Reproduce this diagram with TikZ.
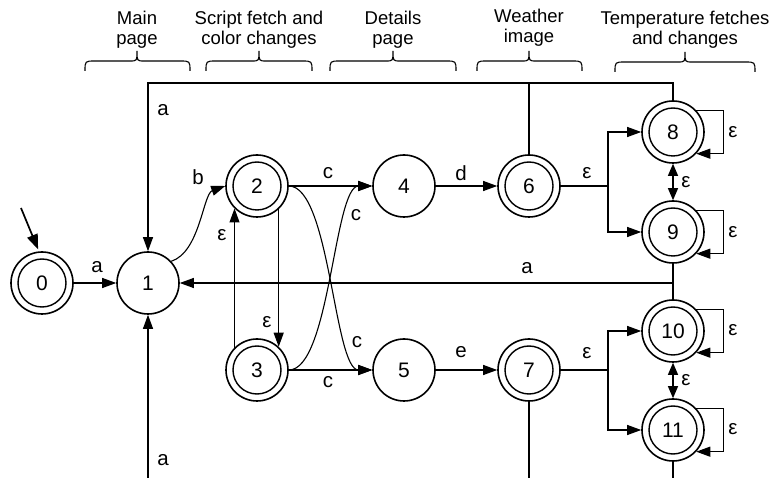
\documentclass[tikz,border=0pt]{standalone}
\usepackage{fontspec}
\setmainfont{Liberation Sans}
\usetikzlibrary{arrows.meta,calc}
\begin{document}
\begin{tikzpicture}[x=1pt,y=-1pt,
  state/.style={circle,draw,line width=1.6pt,minimum size=62pt,inner sep=0pt,font=\fontsize{21}{24}\selectfont},
  accept/.style={state,path picture={\draw[line width=1.4pt] (path picture bounding box.center) circle (24pt);}},
  conn/.style={line width=1.1pt},
  edge/.style={conn,-{Triangle[length=14pt,width=10pt]}},
  bidir/.style={conn,{Triangle[length=12pt,width=10pt]}-{Triangle[length=12pt,width=10pt]}},
  lab/.style={font=\fontsize{20.5}{24}\selectfont,inner sep=0pt},
  head/.style={font=\fontsize{18.5}{20}\selectfont,align=center,anchor=north,inner sep=0pt},
  bracepath/.style={line width=1.1pt}
]
\useasboundingbox (0,0) rectangle (772,478);

% headers
\node[head] (h1) at (137,11) {Main\\page};
\node[head] (h2) at (259,11) {Script fetch and\\color changes};
\node[head] (h3) at (393,11) {Details\\page};
\node[head] (h4) at (529,9) {Weather\\image};
\node[head] (h5) at (685,11) {Temperature fetches\\and changes};

% braces
\draw[bracepath] (85,71) .. controls (85,61) .. (95,61) -- (130,61) .. controls (137,61) .. (137,51) .. controls (137,61) .. (144,61) -- (180,61) .. controls (190,61) .. (190,71);
\draw[bracepath] (206,71) .. controls (206,61) .. (216,61) -- (252,61) .. controls (259,61) .. (259,51) .. controls (259,61) .. (266,61) -- (302,61) .. controls (312,61) .. (312,71);
\draw[bracepath] (330,71) .. controls (330,61) .. (340,61) -- (386,61) .. controls (393,61) .. (393,51) .. controls (393,61) .. (400,61) -- (446,61) .. controls (456,61) .. (456,71);
\draw[bracepath] (477,71) .. controls (477,61) .. (487,61) -- (522,61) .. controls (529,61) .. (529,51) .. controls (529,61) .. (536,61) -- (572,61) .. controls (582,61) .. (582,71);
\draw[bracepath] (615,72) .. controls (615,62) .. (625,62) -- (678,62) .. controls (685,62) .. (685,52) .. controls (685,62) .. (692,62) -- (745,62) .. controls (755,62) .. (755,72);

% states
\node[accept] (n0) at (42,283) {0};
\node[state]  (n1) at (148,283) {1};
\node[accept] (n2) at (257,186) {2};
\node[accept] (n3) at (257,370) {3};
\node[state]  (n4) at (404,186) {4};
\node[state]  (n5) at (404,370) {5};
\node[accept] (n6) at (529,186) {6};
\node[accept] (n7) at (529,370) {7};
\node[accept] (n8) at (673,132) {8};
\node[accept] (n9) at (673,232) {9};
\node[accept] (n10) at (673,331) {10};
\node[accept] (n11) at (673,430) {11};

% helper coordinates
\coordinate (init) at (21,208);
\coordinate (tl) at (148,83);
\coordinate (t6) at (529,83);
\coordinate (t8) at (673,83);
\coordinate (m) at (673,283);
\coordinate (mt) at (411,283);
\coordinate (b1) at (148,478);
\coordinate (b7) at (529,478);
\coordinate (b11) at (673,478);
\coordinate (s1) at (608,186);
\coordinate (s2) at (608,370);

% connectors
\draw[line width=1.7pt,-{Triangle[length=15pt,width=11pt]}] (init) -- ($(n0.97)+(0,-2)$);
\draw[edge] (n0) -- (n1);
\draw[edge] (n1.43) .. controls (200,252) and (203,194) .. (n2.west);
\draw[edge] (n3.135) -- (n2.225);
\draw[edge] (n2.-47) -- (n3.47);
\draw[edge] (n2) -- (n4);
\draw[edge] (n3) -- (n5);
\draw[edge] (n2.east) .. controls (330,186) and (334,370) .. (n5.west);
\draw[edge] (n3.east) .. controls (330,370) and (334,186) .. (n4.west);
\draw[edge] (n4) -- (n6);
\draw[edge] (n5) -- (n7);
\draw[conn] (n6) -- (s1);
\draw[edge] (s1) |- (n8);
\draw[edge] (s1) |- (n9);
\draw[conn] (n7) -- (s2);
\draw[edge] (s2) |- (n10);
\draw[edge] (s2) |- (n11);
\draw[edge] (n8.43) -- ++(27,0) |- (n8.-43);
\draw[edge] (n9.43) -- ++(27,0) |- (n9.-43);
\draw[edge] (n10.43) -- ++(27,0) |- (n10.-43);
\draw[edge] (n11.43) -- ++(27,0) |- (n11.-43);
\draw[bidir] (n8) -- (n9);
\draw[bidir] (n10) -- (n11);
\draw[edge] (n8.north) -- (t8) -- (tl) -- (n1.north);
\draw[conn] (n6.north) -- (t6);
\draw[conn] (n9.south) -- (n10.north);
\draw[edge] (m) -- (n1.east);
\draw[line width=2pt] (mt) -- (m);
\draw[edge] (b1) -- (n1.south);
\draw[conn] (n7.south) -- (b7);
\draw[conn] (n11.south) -- (b11);

% labels
\node[lab] (l1) at (163,110) {a};
\node[lab] (l2) at (97,267) {a};
\node[lab] (l3) at (198,177) {b};
\node[lab] (l4) at (328,173) {c};
\node[lab] (l5) at (356,215) {c};
\node[lab] (l6) at (222,235) {ε};
\node[lab] (l7) at (267,322) {ε};
\node[lab] (l8) at (357,342) {c};
\node[lab] (l9) at (328,382) {c};
\node[lab] (l10) at (163,460) {a};
\node[lab] (l11) at (461,173) {d};
\node[lab] (l12) at (461,352) {e};
\node[lab] (l13) at (587,173) {ε};
\node[lab] (l14) at (587,353) {ε};
\node[lab] (l15) at (733,132) {ε};
\node[lab] (l16) at (686,182) {ε};
\node[lab] (l17) at (733,232) {ε};
\node[lab] (l18) at (527,268) {a};
\node[lab] (l19) at (733,330) {ε};
\node[lab] (l20) at (686,380) {ε};
\node[lab] (l21) at (733,429) {ε};
\end{tikzpicture}
\end{document}
